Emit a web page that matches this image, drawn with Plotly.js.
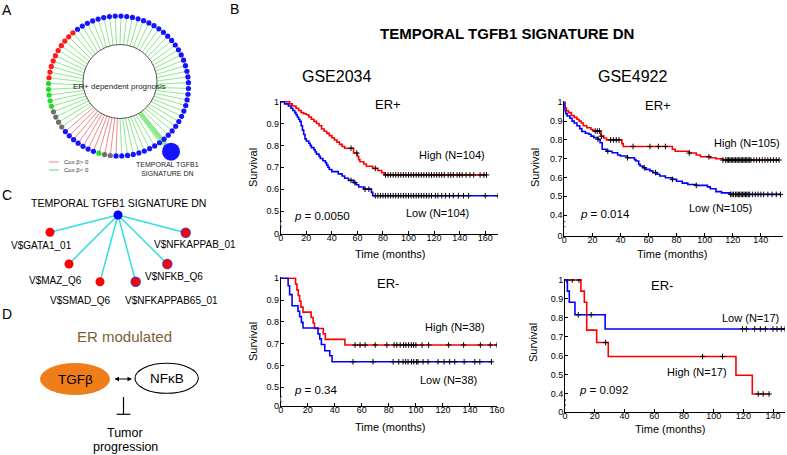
<!DOCTYPE html>
<html><head><meta charset="utf-8">
<script src="https://cdn.plot.ly/plotly-3.0.1.min.js"></script>
<style>body{margin:0;background:#fff}#chart{width:787px;height:455px}</style>
</head><body><div id="chart"></div>
<script>
// ================= DATA =================
// Panel B – Kaplan–Meier curves (time in months, survival fraction)
// GSE2034 ER+
const p1HighT = [0,7,9,12,14,16,18,20,22,24,26,28,30,32,34,36,38,40,42,44,46,48,50,57,60,61,62,65,67,72,76,79,81];
const p1HighS = [1,0.99,0.98,0.97,0.96,0.95,0.945,0.94,0.93,0.92,0.91,0.90,0.89,0.875,0.865,0.855,0.845,0.835,0.825,0.815,0.805,0.795,0.787,0.765,0.75,0.735,0.725,0.715,0.705,0.695,0.685,0.675,0.665];
const p1HighCens = [55,59.5,74,82,84,86,88,90,92,94,96,98,100,102,104,106,108,110,112,114,116,118,120,122,124,126,128,131,133,135,138,140,142,145,148,151,156,159,161];
const p1LowT = [0,3,6,8,9.5,11,12,13,14,15,16,17,18,19,20,22,23,24,26,27,28,30,31,33,35,36,37,38,40,45,48,50,53,57,59,61,65,71,72];
const p1LowS = [1,0.99,0.98,0.97,0.96,0.95,0.94,0.93,0.92,0.91,0.89,0.87,0.85,0.83,0.82,0.81,0.80,0.79,0.78,0.77,0.76,0.75,0.74,0.73,0.72,0.71,0.70,0.69,0.68,0.67,0.66,0.65,0.64,0.63,0.62,0.61,0.60,0.585,0.57];
const p1LowCens = [55,58,66,69,74,76,78,80,82,84,86,88,90,92,94,96,98,100,102,104,106,108,110,112,114,116,118,121,123,126,129,132,135,139,143,147,160,170];
// GSE4922 ER+
const p2HighT = [0,0.5,1.5,3,5,7,9,10.5,12,13.5,16,19,20.5,26,28,30,41,42,77,79,89,94,97,104,108,113];
const p2HighS = [1,0.97,0.955,0.945,0.93,0.92,0.91,0.90,0.89,0.875,0.865,0.855,0.847,0.82,0.81,0.80,0.78,0.765,0.75,0.74,0.73,0.72,0.71,0.705,0.70,0.693];
const p2HighCens = [22,23.5,25,26.5,33,35,37,39,49,61,67,72,89,103,113,115,116,117,118,119,120,121,122,123,124,125,126,127,128,129,130,131,132,133,135,137,139,141,143,145,147,149,151,153];
const p2LowT = [0,0.3,1,2,4,5.5,7,9,11,12.5,15,17.5,19,21,24,25.5,27,30,34,38,40,45,50,51,53,54,56,58,61,63,66,68,72,77,80,84,88,94,102,104,108,112,118];
const p2LowS = [1,0.955,0.94,0.927,0.915,0.90,0.89,0.875,0.86,0.845,0.835,0.83,0.82,0.812,0.803,0.785,0.75,0.74,0.732,0.72,0.714,0.705,0.695,0.688,0.67,0.661,0.652,0.643,0.635,0.626,0.617,0.608,0.599,0.59,0.58,0.57,0.563,0.558,0.55,0.54,0.525,0.518,0.51];
const p2LowCens = [24,31,45,57,65,77,94,118.5,119.5,120.5,122,123,124,125,126,127,128,129,130,131,132,134,136,138,140,142,145,148,151,154];
// GSE2034 ER-
const p3HighT = [0,11,12,13,14,15,16.5,22.5,24,25,31.5,33,47.5];
const p3HighS = [1,0.974,0.947,0.921,0.895,0.868,0.845,0.82,0.795,0.77,0.745,0.72,0.694];
const p3HighCens = [55,58.7,62.4,69.9,78.5,83.9,85.9,88.4,90.9,92.6,94.6,96.6,98.3,100,104.5,109.4,124.2,135.3,147.7,155,160];
const p3LowT = [0,5.5,6.6,8.4,12.8,14,15.3,16.5,27.6,28.9,30.1,32.6,36.3,38];
const p3LowS = [1,0.966,0.925,0.874,0.849,0.824,0.798,0.772,0.745,0.722,0.696,0.668,0.645,0.617];
const p3LowCens = [53.5,68.3,83.1,87.3,90.5,92.5,94.2,96.7,98.4,100.4,101.6,105.3,109,116.4,120.9,125,128.8,135.7,143.6,147.3,155.9];
// GSE4922 ER-
const p4HighT = [0,10.7,13,14.6,21.3,29.1,115,126];
const p4HighS = [1,0.941,0.882,0.735,0.669,0.595,0.496,0.397];
const p4HighCens = [1.2,4.9,9.4,27.3,92.6,106,130,133.3,137.3];
const p4LowT = [0,1.6,2.9,6.7,27];
const p4LowS = [1,0.941,0.882,0.816,0.741];
const p4LowCens = [8.9,17.6,119.4,122,127.6,131.4,134.8,139.9,142.6,145.5,148];

const highLabels = ['High (N=104)','High (N=105)','High (N=38)','High (N=17)'];
const lowLabels = ['Low (N=104)','Low (N=105)','Low (N=38)','Low (N=17)'];
const pValues = ['0.0050','0.014','0.34','0.092'];
const subsetLabels = ['ER+','ER+','ER-','ER-'];
const datasets = ['GSE2034','GSE4922'];

// Panel A – ring of gene sets (colour groups going counter-clockwise) and edge signs
const ringGroup = ['red','green','gray','blue','green','gray','blue'];
const ringGroupSize = [10,5,4,7,1,2,47];
const ringEdgeSign = ['neg','pos','neg'];
const ringEdgeSignSize = [19,11,46];

// Panel C – network
const cHub = 'TEMPORAL TGFB1 SIGNATURE DN';
const cNodes = ['V$GATA1_01','V$MAZ_Q6','V$SMAD_Q6','V$NFKAPPAB65_01','V$NFKB_Q6','V$NFKAPPAB_01'];
const cNodeRing = ['none','none','none','purple','purple','purple'];

// ================= LAYOUT / DRAWING =================
const W = 787, H = 455;
const FONT = 'Arial, "Liberation Sans", sans-serif';
const traces = [];
const shapes = [];
const ann = [];

function txt(text, x, y, size, extra) {
  return Object.assign({text, x, y, xref:'x5', yref:'y5', showarrow:false,
    xanchor:'center', yanchor:'middle', font:{family:FONT, size, color:'#000'}}, extra||{});
}

// KM subplot geometry (pixels)
const geo = [
  {xl:280.7, xr:498,   xmax:170, top1:101.7, ppu:218.6, bot:234,   brk:[0.43,0.452]},
  {xl:564.3, xr:783.3, xmax:156, top1:102.3, ppu:188,   bot:235.7, brk:[0.338,0.365]},
  {xl:280.7, xr:497,   xmax:160, top1:278.3, ppu:218,   bot:406,   brk:[0.434,0.457]},
  {xl:565,   xr:785,   xmax:148, top1:280,   ppu:189,   bot:412.3, brk:[0.339,0.365]}
];
const kmData = [
  [p1HighT,p1HighS,p1HighCens,p1LowT,p1LowS,p1LowCens],
  [p2HighT,p2HighS,p2HighCens,p2LowT,p2LowS,p2LowCens],
  [p3HighT,p3HighS,p3HighCens,p3LowT,p3LowS,p3LowCens],
  [p4HighT,p4HighS,p4HighCens,p4LowT,p4LowS,p4LowCens]
];
function survAt(T,S,t){let v=S[0];for(let i=0;i<T.length;i++){if(T[i]<=t)v=S[i];}return v;}
function addCurve(T,S,C,color,xa,ya){
  const end = Math.max(C[C.length-1], T[T.length-1]);
  traces.push({x:T.concat([end]), y:S.concat([S[S.length-1]]), mode:'lines',
    line:{shape:'hv', color, width:1.6}, xaxis:xa, yaxis:ya, hoverinfo:'skip'});
  traces.push({x:C, y:C.map(c=>survAt(T,S,c)), mode:'markers', xaxis:xa, yaxis:ya,
    marker:{symbol:'cross-thin-open', size:4, color:'#000', line:{color:'#000', width:1}}, hoverinfo:'skip'});
}
const layout = {
  width:W, height:H, margin:{l:0,r:0,t:0,b:0}, showlegend:false,
  paper_bgcolor:'#fff', plot_bgcolor:'rgba(0,0,0,0)', font:{family:FONT},
  xaxis5:{domain:[0,1], range:[0,W], visible:false, anchor:'y5', fixedrange:true},
  yaxis5:{domain:[0,1], range:[H,0], visible:false, anchor:'x5', fixedrange:true}
};
geo.forEach((g,i)=>{
  const k = i===0 ? '' : String(i+1);
  const xa = 'x'+k, ya = 'y'+k;
  const lo = 1 - (g.bot - g.top1)/g.ppu, hi = 1 + 1/g.ppu;
  const yt = [], ytt = [];
  const first = (i%2===0) ? 0.5 : 0.4;
  yt.push(lo+0.0005); ytt.push('0');
  for (let v=first; v<=1.0001; v+=0.1){ yt.push(+v.toFixed(2)); ytt.push(v>0.999?'1':v.toFixed(1)); }
  const axBase = {showgrid:false, zeroline:false, showline:true, linecolor:'#000', linewidth:1,
    ticks:'inside', ticklen:3, tickwidth:1, tickcolor:'#000', tickfont:{family:FONT,size:9,color:'#000'}, fixedrange:true};
  layout['xaxis'+k] = Object.assign({}, axBase, {domain:[g.xl/W, g.xr/W], range:[0,g.xmax], anchor:ya,
    tickmode:'linear', tick0:0, dtick:20, ticklabelstandoff:-5});
  layout['yaxis'+k] = Object.assign({}, axBase, {domain:[1-g.bot/H, 1-(g.top1-1)/H], range:[lo,hi], anchor:xa,
    tickmode:'array', tickvals:yt, ticktext:ytt, ticklabelstandoff:-1});
  const d = kmData[i];
  addCurve(d[0],d[1],d[2],'#ff0000',xa,ya);
  addCurve(d[3],d[4],d[5],'#0000ff',xa,ya);
  // axis break
  shapes.push({type:'rect', xref:xa, yref:ya, xsizemode:'pixel', xanchor:0, x0:-5, x1:3,
    y0:g.brk[0], y1:g.brk[1], fillcolor:'#fff', line:{width:0}, layer:'above'});
  g.brk.forEach(b=>shapes.push({type:'line', xref:xa, yref:ya, xsizemode:'pixel', xanchor:0, x0:-3, x1:1,
    y0:b, y1:b, line:{color:'#000', width:1}, layer:'above'}));
});

// KM text
const kmText = [
  {sub:[388,104], hi:[452,155], lo:[437,213], p:[322,216], sv:[253,168], tm:[390,254]},
  {sub:[658,105], hi:[747,143], lo:[720,208], p:[605,214], sv:[535,168], tm:[672,254]},
  {sub:[388,283], hi:[455,327], lo:[448,380], p:[315,390], sv:[253,342], tm:[390,427]},
  {sub:[662,285], hi:[697,372], lo:[750,318], p:[603,390], sv:[533,343], tm:[670,429]}
];
kmText.forEach((t,i)=>{
  ann.push(txt(subsetLabels[i], t.sub[0], t.sub[1], 13));
  ann.push(txt(highLabels[i], t.hi[0], t.hi[1], 11));
  ann.push(txt(lowLabels[i], t.lo[0], t.lo[1], 11));
  ann.push(txt('<i>p</i> = '+pValues[i], t.p[0], t.p[1], 11.5));
  ann.push(txt('Survival', t.sv[0], t.sv[1], 11, {textangle:-90}));
  ann.push(txt('Time (months)', t.tm[0], t.tm[1], 11));
});
ann.push(txt('TEMPORAL TGFB1 SIGNATURE DN', 507, 33, 15, {font:{family:FONT,size:15,color:'#000',weight:'bold'}}));
ann.push(txt(datasets[0], 336, 76, 16));
ann.push(txt(datasets[1], 632, 76, 16));
ann.push(txt('A', 7, 10, 14));
ann.push(txt('B', 234, 9, 14));
ann.push(txt('C', 7, 195, 14));
ann.push(txt('D', 7, 314, 14));

// ---------- Panel A ----------
const ring = {cx:118.5, cy:86, r:70, start:130.6, inCx:120, inCy:81.5, inR:37};
const colorMap = {red:'#ff1a1a', green:'#22dd22', gray:'#6e6e6e', blue:'#1414ff'};
const dotCols = [];
ringGroup.forEach((g,i)=>{for(let j=0;j<ringGroupSize[i];j++) dotCols.push(colorMap[g]);});
const edgeSigns = [];
ringEdgeSign.forEach((s,i)=>{for(let j=0;j<ringEdgeSignSize[i];j++) edgeSigns.push(s);});
const n = dotCols.length;
function innerHit(px,py){
  const dx = ring.cx-px, dy = ring.cy-py;
  const fx = px-ring.inCx, fy = py-ring.inCy;
  const a = dx*dx+dy*dy, b = 2*(fx*dx+fy*dy), c = fx*fx+fy*fy-ring.inR*ring.inR;
  const t = (-b - Math.sqrt(Math.max(0,b*b-4*a*c)))/(2*a);
  return [px+t*dx, py+t*dy];
}
const dx_ = [], dy_ = [], gx=[], gy=[], rx=[], ry=[];
for (let i=0;i<n;i++){
  const ang = (ring.start + i*360/n)*Math.PI/180;
  const x = ring.cx + ring.r*Math.cos(ang), y = ring.cy - ring.r*Math.sin(ang);
  dx_.push(x); dy_.push(y);
  const h = innerHit(x,y);
  if (edgeSigns[i]==='pos'){ rx.push(x,h[0],null); ry.push(y,h[1],null); }
  else { gx.push(x,h[0],null); gy.push(y,h[1],null); }
}
traces.push({x:gx, y:gy, mode:'lines', line:{color:'#8ee88e', width:1}, xaxis:'x5', yaxis:'y5', hoverinfo:'skip'});
traces.push({x:rx, y:ry, mode:'lines', line:{color:'#f28a8a', width:1}, xaxis:'x5', yaxis:'y5', hoverinfo:'skip'});
const big = {x:171, y:151.7};
const bh = innerHit(big.x, big.y);
traces.push({x:[big.x,bh[0]], y:[big.y,bh[1]], mode:'lines', line:{color:'#8ee88e', width:4.5}, xaxis:'x5', yaxis:'y5', hoverinfo:'skip'});
traces.push({x:dx_, y:dy_, mode:'markers', marker:{size:5.2, color:dotCols}, xaxis:'x5', yaxis:'y5', hoverinfo:'skip'});
traces.push({x:[big.x], y:[big.y], mode:'markers', marker:{size:18, color:'#1414ff'}, xaxis:'x5', yaxis:'y5', hoverinfo:'skip'});
shapes.push({type:'circle', xref:'x5', yref:'y5', x0:ring.inCx-ring.inR, x1:ring.inCx+ring.inR,
  y0:ring.inCy-ring.inR, y1:ring.inCy+ring.inR, fillcolor:'#fff', line:{color:'#555', width:1}, layer:'above'});
ann.push(txt('ER+ dependent prognosis', 119.5, 86.5, 8, {font:{family:FONT,size:8,color:'#222'}}));
ann.push(txt('TEMPORAL TGFB1<br>SIGNATURE DN', 167, 169, 7, {font:{family:FONT,size:7,color:'#222'}}));
shapes.push({type:'line', xref:'x5', yref:'y5', x0:49, x1:59, y0:162, y1:162, line:{color:'#f28a8a', width:1}});
shapes.push({type:'line', xref:'x5', yref:'y5', x0:49, x1:59, y0:170, y1:170, line:{color:'#66dd66', width:1}});
ann.push(txt('Cox β> 0', 62, 162, 6, {xanchor:'left', font:{family:FONT,size:6,color:'#333'}}));
ann.push(txt('Cox β< 0', 62, 170, 6, {xanchor:'left', font:{family:FONT,size:6,color:'#333'}}));

// ---------- Panel C ----------
const cHubPos = [118, 215];
const cPos = [[50,232.3],[69,264],[100,281.7],[135.7,281.7],[167.3,264],[185.7,232.7]];
const cLabPos = [[41,245],[55,280.7],[80,300],[171,300],[174,276],[195,244]];
const ex=[], ey=[];
cPos.forEach(p=>{ex.push(cHubPos[0],p[0],null); ey.push(cHubPos[1],p[1],null);});
traces.push({x:ex, y:ey, mode:'lines', line:{color:'#33dede', width:1.5}, xaxis:'x5', yaxis:'y5', hoverinfo:'skip'});
traces.push({x:cPos.map(p=>p[0]), y:cPos.map(p=>p[1]), mode:'markers', xaxis:'x5', yaxis:'y5', hoverinfo:'skip',
  marker:{size:9, color:'#ff0000', line:{color:cNodeRing.map(r=>r==='purple'?'#6b2fa3':'#ff0000'), width:cNodeRing.map(r=>r==='purple'?1.4:0)}}});
traces.push({x:[cHubPos[0]], y:[cHubPos[1]], mode:'markers', marker:{size:9, color:'#0000ff'}, xaxis:'x5', yaxis:'y5', hoverinfo:'skip'});
ann.push(txt(cHub, 118.5, 203, 10.5));
cNodes.forEach((nm,i)=>ann.push(txt(nm, cLabPos[i][0], cLabPos[i][1], 10)));

// ---------- Panel D ----------
ann.push(txt('ER modulated', 124, 336, 15, {font:{family:FONT,size:15,color:'#7d6036'}}));
shapes.push({type:'circle', xref:'x5', yref:'y5', x0:40, x1:110, y0:363, y1:395, fillcolor:'#ef7d1a', line:{width:0}});
shapes.push({type:'circle', xref:'x5', yref:'y5', x0:135, x1:198.3, y0:363.3, y1:393.3, fillcolor:'#fff', line:{color:'#000', width:1.1}});
ann.push(txt('TGFβ', 75, 379, 13.5));
ann.push(txt('NFκB', 167, 378.5, 13.5));
ann.push({x:132, y:379, ax:113, ay:379, xref:'x5', yref:'y5', axref:'x5', ayref:'y5', text:'', showarrow:true,
  arrowhead:2, startarrowhead:2, arrowside:'end+start', arrowsize:0.9, arrowwidth:1, arrowcolor:'#000'});
shapes.push({type:'line', xref:'x5', yref:'y5', x0:123.5, x1:123.5, y0:397, y1:414.3, line:{color:'#000', width:1.2}});
shapes.push({type:'line', xref:'x5', yref:'y5', x0:116.7, x1:130.3, y0:414.3, y1:414.3, line:{color:'#000', width:1.2}});
ann.push(txt('Tumor', 125, 433, 12.5));
ann.push(txt('progression', 125, 447, 12.5));

layout.shapes = shapes;
layout.annotations = ann;
Plotly.newPlot('chart', traces, layout, {displayModeBar:false, staticPlot:true});
</script>
</body></html>
